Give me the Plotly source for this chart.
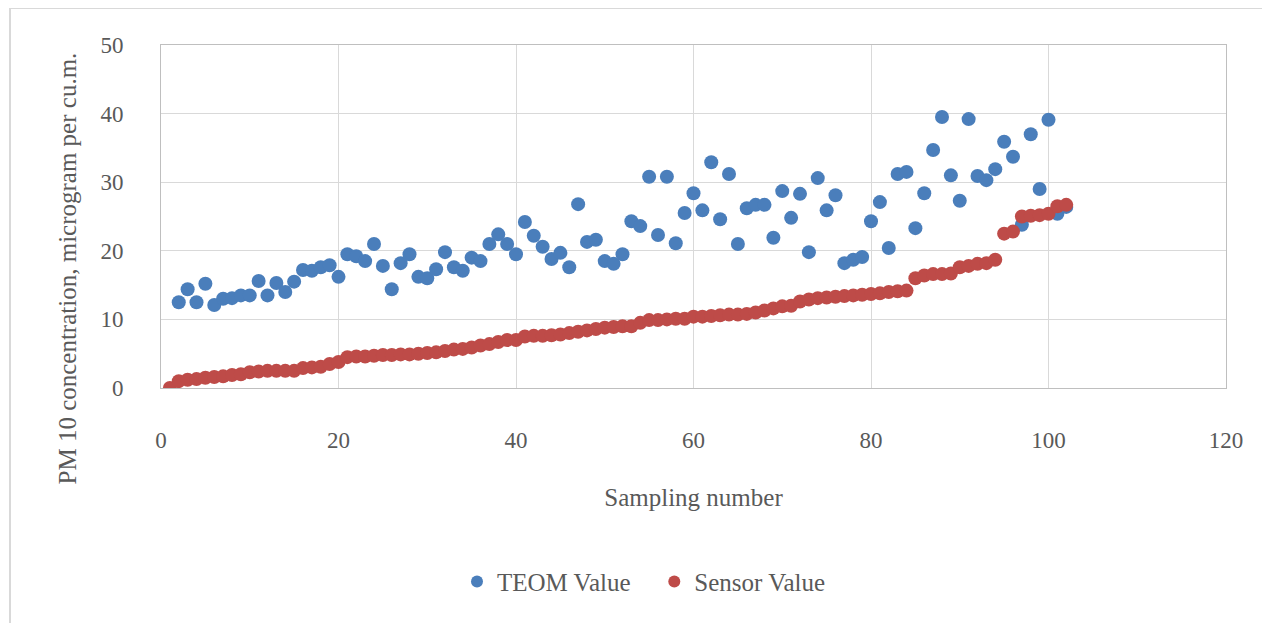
import plotly.graph_objects as go

# Sampling numbers
teom_x = list(range(2, 103))
sensor_x = list(range(1, 103))

# TEOM reference readings (samples 2..102)
teom_values = [
    12.5, 14.4, 12.5, 15.2, 12.1, 13.0, 13.1, 13.5, 13.5, 15.6,
    13.5, 15.3, 14.0, 15.5, 17.2, 17.1, 17.6, 17.9, 16.2, 19.5,
    19.2, 18.5, 21.0, 17.8, 14.4, 18.2, 19.5, 16.2, 16.0, 17.3,
    19.8, 17.6, 17.1, 19.0, 18.5, 21.0, 22.4, 21.0, 19.5, 24.2,
    22.2, 20.6, 18.8, 19.7, 17.6, 26.8, 21.3, 21.6, 18.5, 18.1,
    19.5, 24.3, 23.6, 30.8, 22.3, 30.8, 21.1, 25.5, 28.4, 25.9,
    32.9, 24.6, 31.2, 21.0, 26.2, 26.7, 26.7, 21.9, 28.7, 24.8,
    28.3, 19.8, 30.6, 25.9, 28.1, 18.2, 18.7, 19.1, 24.3, 27.1,
    20.4, 31.2, 31.5, 23.3, 28.4, 34.7, 39.5, 31.0, 27.3, 39.2,
    30.9, 30.3, 31.9, 35.9, 33.7, 23.8, 37.0, 29.0, 39.1, 25.4,
    26.4,
]

# Low-cost sensor readings (samples 1..102)
sensor_values = [
    0.0, 1.0, 1.2, 1.3, 1.5, 1.6, 1.7, 1.9, 2.0, 2.3,
    2.4, 2.5, 2.5, 2.5, 2.5, 2.9, 3.0, 3.1, 3.5, 3.8,
    4.5, 4.6, 4.6, 4.7, 4.8, 4.8, 4.9, 4.9, 5.0, 5.1,
    5.2, 5.4, 5.6, 5.7, 5.9, 6.2, 6.4, 6.7, 7.0, 7.0,
    7.5, 7.6, 7.6, 7.7, 7.8, 8.0, 8.2, 8.4, 8.6, 8.8,
    8.9, 9.0, 9.0, 9.5, 9.9, 9.9, 10.0, 10.1, 10.1, 10.4,
    10.4, 10.5, 10.6, 10.7, 10.7, 10.8, 11.0, 11.3, 11.6, 11.9,
    12.0, 12.6, 12.9, 13.1, 13.2, 13.3, 13.4, 13.5, 13.6, 13.7,
    13.8, 14.0, 14.1, 14.2, 16.0, 16.4, 16.6, 16.6, 16.7, 17.6,
    17.8, 18.1, 18.2, 18.7, 22.5, 22.8, 25.0, 25.1, 25.2, 25.4,
    26.5, 26.7,
]

FONT = "Liberation Serif, Times New Roman, serif"
TEXT_COLOR = "#595959"
GRID = "#d9d9d9"

fig = go.Figure()
fig.add_trace(go.Scatter(
    x=teom_x, y=teom_values, mode="markers", name="TEOM Value\u00a0\u00a0\u00a0",
    marker=dict(color="#4a7ebb", size=14),
))
fig.add_trace(go.Scatter(
    x=sensor_x, y=sensor_values, mode="markers", name="Sensor Value",
    marker=dict(color="#be4b48", size=14),
))

# the page body adds an 8px offset, margins compensate for it
fig.update_layout(
    width=1270, height=623,
    template="plotly_white",
    paper_bgcolor="white", plot_bgcolor="white",
    font=dict(family=FONT, size=23, color=TEXT_COLOR),
    margin=dict(l=153, r=52, t=37, b=243),
    showlegend=True,
    legend=dict(
        orientation="h", x=(644 - 161) / 1065, xanchor="center", y=-0.565, yanchor="middle",
        font=dict(family=FONT, size=25, color=TEXT_COLOR),
        itemsizing="constant", itemwidth=30,
    ),
    shapes=[
        # outer chart border
        dict(type="rect", xref="paper", yref="paper",
             x0=(10 - 161) / 1065, x1=(1268 - 161) / 1065,
             y0=(388 - 660) / 343, y1=(388 - 8) / 343,
             line=dict(color="#d9d9d9", width=2), layer="below"),
    ],
    annotations=[
        dict(text="PM 10 concentration, microgram per cu.m.",
             xref="paper", yref="paper", x=(66.5 - 161) / 1065, y=(388 - 269) / 343,
             xanchor="center", yanchor="middle", textangle=-90, showarrow=False,
             font=dict(family=FONT, size=25, color=TEXT_COLOR)),
    ],
)

fig.update_xaxes(
    range=[0, 120], dtick=20, tick0=0,
    showgrid=True, gridcolor=GRID, gridwidth=1,
    showline=True, linecolor="#bfbfbf", linewidth=1, mirror=True,
    zeroline=False, ticks="", ticklabelstandoff=31,
    title=dict(text="Sampling number", font=dict(family=FONT, size=25, color=TEXT_COLOR), standoff=36),
)
fig.update_yaxes(
    range=[0, 50], dtick=10, tick0=0,
    showgrid=True, gridcolor=GRID, gridwidth=1,
    showline=True, linecolor="#bfbfbf", linewidth=1, mirror=True,
    zeroline=False, ticks="", ticklabelstandoff=32,
)

fig.write_html("out.html")
